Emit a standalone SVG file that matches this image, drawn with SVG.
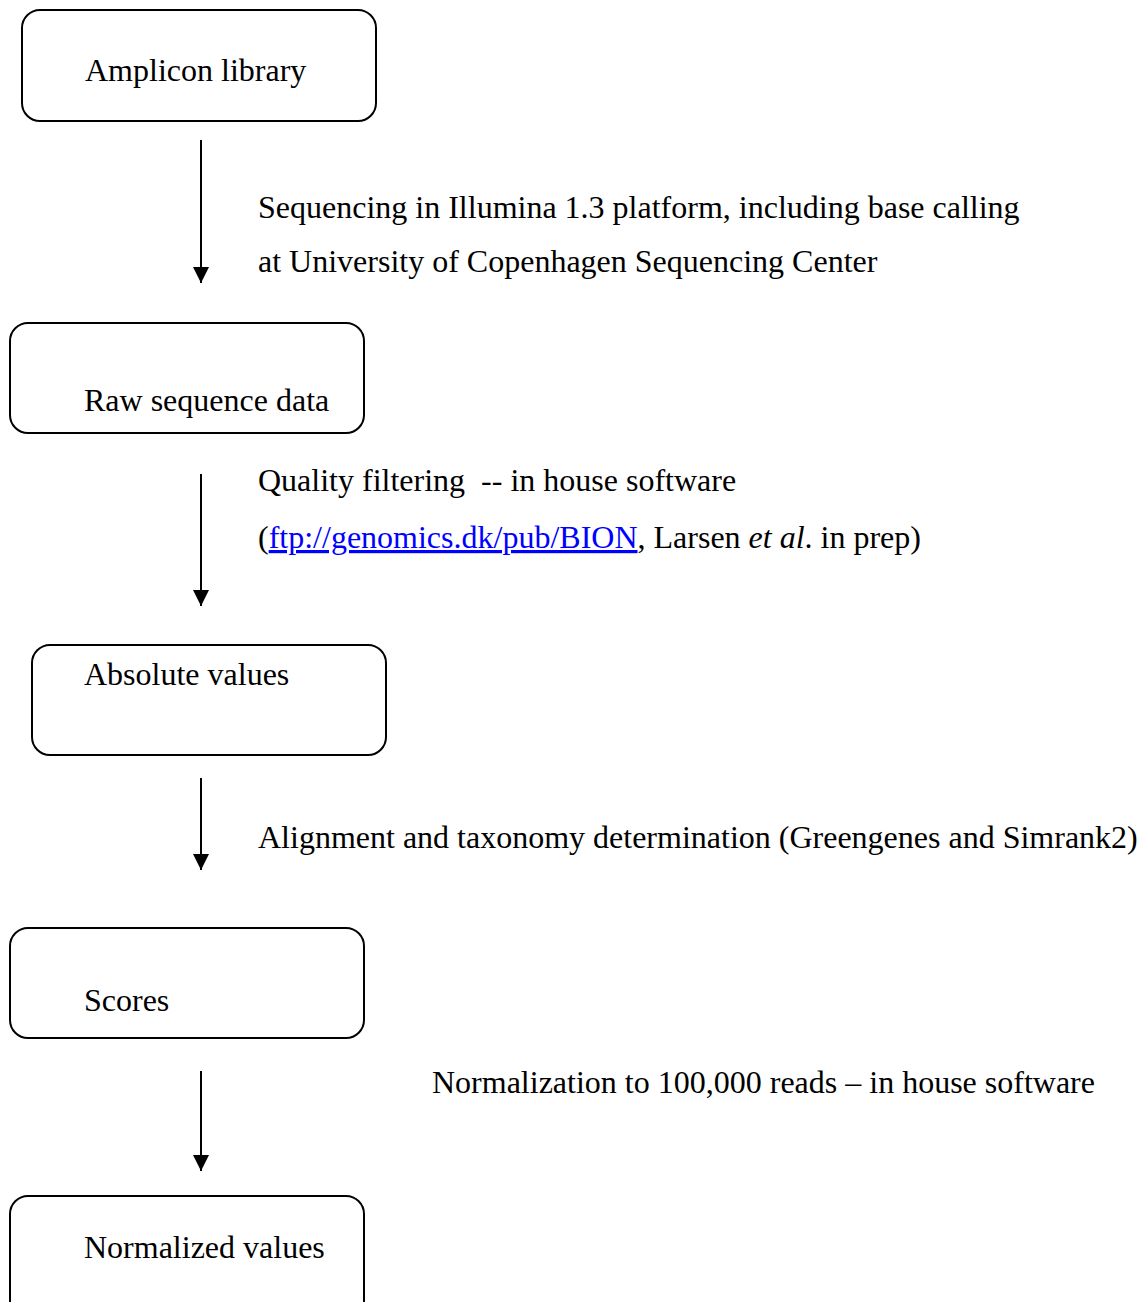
<svg xmlns="http://www.w3.org/2000/svg" width="1147" height="1302" viewBox="0 0 1147 1302">
<style>
.box{fill:#fff;stroke:#000;stroke-width:2}
text{font-family:"Liberation Serif","Times New Roman",serif;font-size:32px;fill:#000}
.conn line{stroke:#000;stroke-width:2}
.link{fill:#0000ff;text-decoration:underline}
</style>
<defs>
<marker id="ah" viewBox="0 0 10 10" refX="10" refY="5" markerWidth="9" markerHeight="8" markerUnits="strokeWidth" orient="auto">
<path d="M0,0 L10,5 L0,10 z" fill="#000"/>
</marker>
</defs>
<rect width="1147" height="1302" fill="#fff"/>
<g id="n1"><rect class="box" x="22" y="10" width="354" height="111" rx="18"/><text x="85" y="81">Amplicon library</text></g>
<g id="n2"><rect class="box" x="10" y="323" width="354" height="110" rx="18"/><text x="84" y="411">Raw sequence data</text></g>
<g id="n3"><rect class="box" x="32" y="645" width="354" height="110" rx="18"/><text x="84" y="685">Absolute values</text></g>
<g id="n4"><rect class="box" x="10" y="928" width="354" height="110" rx="18"/><text x="84" y="1011">Scores</text></g>
<g id="n5"><rect class="box" x="10" y="1196" width="354" height="130" rx="18"/><text x="84" y="1258">Normalized values</text></g>
<g class="conn" id="connectors">
<line x1="201" y1="140" x2="201" y2="283" marker-end="url(#ah)"/>
<line x1="201" y1="474" x2="201" y2="606" marker-end="url(#ah)"/>
<line x1="201" y1="778" x2="201" y2="870" marker-end="url(#ah)"/>
<line x1="201" y1="1071" x2="201" y2="1171" marker-end="url(#ah)"/>
</g>
<g id="labels">
<text x="258" y="218">Sequencing in Illumina 1.3 platform, including base calling</text>
<text x="258" y="272">at University of Copenhagen Sequencing Center</text>
<text x="258" y="491" xml:space="preserve">Quality filtering  -- in house software</text>
<text x="258" y="548">(<tspan class="link">ftp://genomics.dk/pub/BION</tspan>, Larsen <tspan font-style="italic">et al</tspan>. in prep)</text>
<text x="258" y="848">Alignment and taxonomy determination (Greengenes and Simrank2)</text>
<text x="432" y="1093">Normalization to 100,000 reads – in house software</text>
</g>
</svg>
